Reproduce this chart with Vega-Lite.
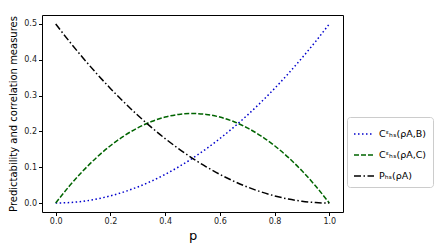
{
  "$schema": "https://vega.github.io/schema/vega-lite/v6.json",
  "width": 301,
  "height": 197,
  "autosize": "none",
  "padding": {"left": 42, "top": 15, "right": 96, "bottom": 39},
  "background": "white",
  "config": {
    "font": "DejaVu Sans",
    "view": {"stroke": "#000000", "strokeWidth": 1}
  },
  "data": {
    "values": [
      {"p": 0.0, "a": 0.0, "b": 0.0, "c": 0.5},
      {"p": 0.05, "a": 0.00125, "b": 0.0475, "c": 0.45125},
      {"p": 0.1, "a": 0.005, "b": 0.09, "c": 0.405},
      {"p": 0.15, "a": 0.01125, "b": 0.1275, "c": 0.36125},
      {"p": 0.2, "a": 0.02, "b": 0.16, "c": 0.32},
      {"p": 0.25, "a": 0.03125, "b": 0.1875, "c": 0.28125},
      {"p": 0.3, "a": 0.045, "b": 0.21, "c": 0.245},
      {"p": 0.35, "a": 0.06125, "b": 0.2275, "c": 0.21125},
      {"p": 0.4, "a": 0.08, "b": 0.24, "c": 0.18},
      {"p": 0.45, "a": 0.10125, "b": 0.2475, "c": 0.15125},
      {"p": 0.5, "a": 0.125, "b": 0.25, "c": 0.125},
      {"p": 0.55, "a": 0.15125, "b": 0.2475, "c": 0.10125},
      {"p": 0.6, "a": 0.18, "b": 0.24, "c": 0.08},
      {"p": 0.65, "a": 0.21125, "b": 0.2275, "c": 0.06125},
      {"p": 0.7, "a": 0.245, "b": 0.21, "c": 0.045},
      {"p": 0.75, "a": 0.28125, "b": 0.1875, "c": 0.03125},
      {"p": 0.8, "a": 0.32, "b": 0.16, "c": 0.02},
      {"p": 0.85, "a": 0.36125, "b": 0.1275, "c": 0.01125},
      {"p": 0.9, "a": 0.405, "b": 0.09, "c": 0.005},
      {"p": 0.95, "a": 0.45125, "b": 0.0475, "c": 0.00125},
      {"p": 1.0, "a": 0.5, "b": 0.0, "c": 0.0}
    ]
  },
  "transform": [
    {"fold": ["a", "b", "c"], "as": ["key", "value"]},
    {"lookup": "key", "from": {"data": {"values": [
      {"key": "a", "series": "Cᵋₕₛ(ρA,B)"},
      {"key": "b", "series": "Cᵋₕₛ(ρA,C)"},
      {"key": "c", "series": "Pₕₛ(ρA)"}
    ]}, "key": "key", "fields": ["series"]}}
  ],
  "mark": {"type": "line", "strokeWidth": 1.5, "interpolate": "monotone"},
  "encoding": {
    "x": {
      "field": "p", "type": "quantitative",
      "scale": {"domain": [-0.05, 1.05], "nice": false, "zero": false},
      "axis": {
        "values": [0, 0.2, 0.4, 0.6, 0.8, 1.0], "format": ".1f",
        "title": "p", "titleFontSize": 13, "titleFontWeight": "normal", "titleColor": "#000",
        "titlePadding": 4,
        "labelFontSize": 8, "labelColor": "#222", "tickColor": "#000", "tickSize": 3.5,
        "grid": false, "domain": false
      }
    },
    "y": {
      "field": "value", "type": "quantitative",
      "scale": {"domain": [-0.025, 0.525], "nice": false, "zero": false},
      "axis": {
        "values": [0, 0.1, 0.2, 0.3, 0.4, 0.5], "format": ".1f",
        "title": "Predictability and correlation measures", "titleFontSize": 10,
        "titleFontWeight": "normal", "titleColor": "#000", "titlePadding": 5,
        "labelFontSize": 8, "labelColor": "#222", "tickColor": "#000", "tickSize": 3.5,
        "grid": false, "domain": false
      }
    },
    "color": {
      "field": "series", "type": "nominal",
      "scale": {"domain": ["Cᵋₕₛ(ρA,B)", "Cᵋₕₛ(ρA,C)", "Pₕₛ(ρA)"], "range": ["#0000cd", "#006400", "#000000"]},
      "legend": {
        "orient": "none", "legendX": 305, "legendY": 102, "title": null,
        "symbolType": "stroke", "symbolSize": 400, "symbolStrokeWidth": 1.5,
        "labelFontSize": 9.5, "labelColor": "#000", "rowPadding": 5,
        "padding": 6, "strokeColor": "#cccccc", "fillColor": "white", "cornerRadius": 3
      }
    },
    "strokeDash": {
      "field": "series", "type": "nominal",
      "scale": {"domain": ["Cᵋₕₛ(ρA,B)", "Cᵋₕₛ(ρA,C)", "Pₕₛ(ρA)"], "range": [[1.5, 2.5], [5, 2], [7, 2.5, 1.5, 2.5]]},
      "legend": null
    }
  }
}
